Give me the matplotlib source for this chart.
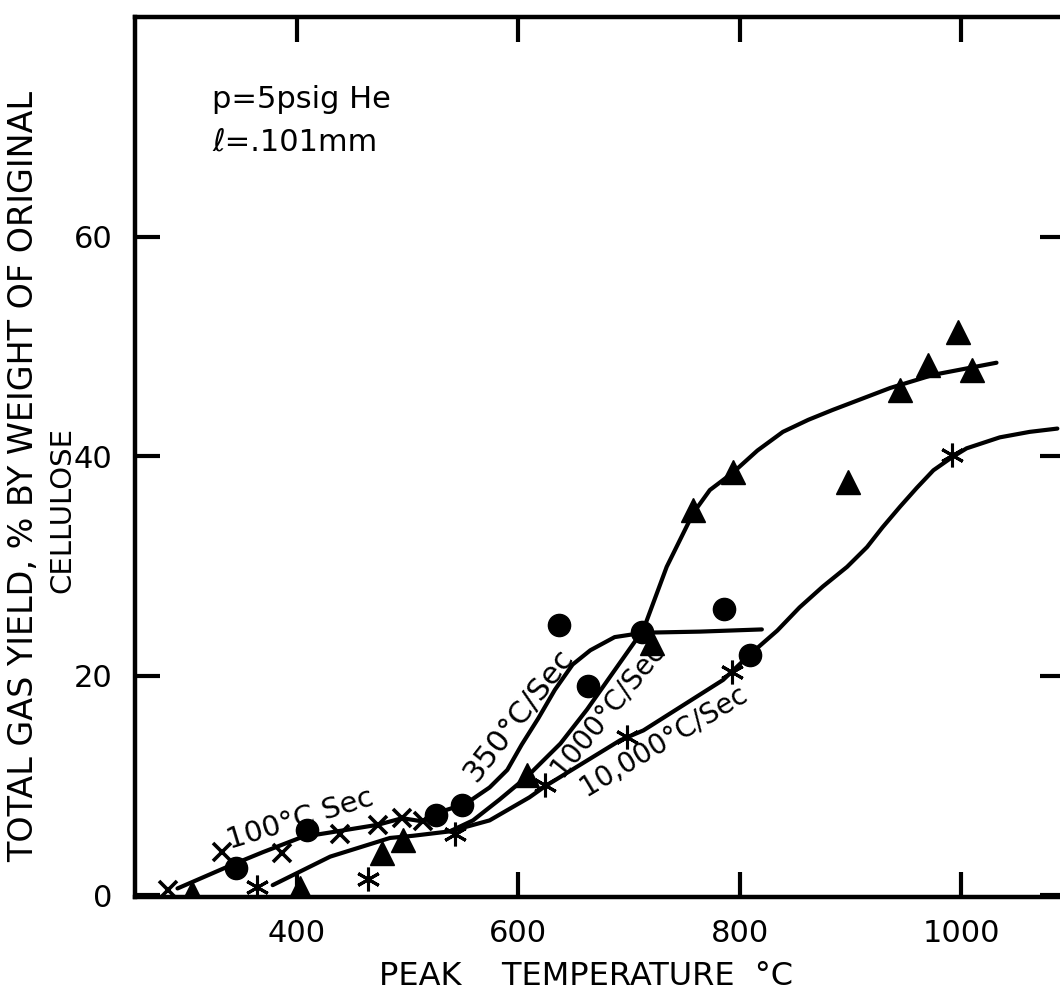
"""
Total gas yield of cellulose vs. peak temperature at several heating rates
(p = 5 psig He, l = .101 mm). Values read off the scanned figure.
"""
import numpy as np
from matplotlib import pyplot as plt

plt.rcParams['font.family'] = ['DejaVu Sans']

# measured points, by marker
cross_T = [283, 332, 386, 439, 473, 495, 514]
cross_Y = [0.5, 3.9, 3.8, 5.6, 6.4, 7.0, 6.7]

circle_T = [345, 409, 526, 549, 637, 663, 712, 786, 809]
circle_Y = [2.5, 5.9, 7.3, 8.2, 24.6, 19.0, 24.0, 26.1, 21.9]

tri_T = [305, 403, 477, 496, 608, 721, 758, 794, 898, 945, 970, 997, 1010]
tri_Y = [0.2, 0.6, 3.8, 5.0, 10.9, 23.0, 35.1, 38.5, 37.6, 46.0, 48.3, 51.3, 47.8]

star_T = [364, 464, 543, 624, 698, 793, 992]
star_Y = [0.7, 1.5, 5.6, 10.0, 14.4, 20.3, 40.1]

# hand drawn curves
c350_T = [292, 340, 369, 405, 430, 473, 495, 514, 527, 549, 558, 574, 590,
          603, 618, 633, 649, 665, 687, 713, 764, 820]
c350_Y = [0.6, 2.7, 3.9, 5.3, 5.7, 6.4, 7.0, 6.7, 7.5, 8.2, 8.7, 9.8, 11.4,
          13.7, 16.1, 18.7, 21.0, 22.3, 23.5, 23.9, 24.0, 24.2]

c1000_T = [378, 430, 484, 505, 538, 559, 583, 608, 638, 662, 713, 734, 758,
           773, 794, 816, 839, 862, 884, 936, 975, 1032]
c1000_Y = [0.9, 3.5, 5.2, 5.4, 5.8, 6.8, 8.7, 10.8, 13.8, 16.9, 24.2, 29.9,
           34.8, 36.9, 38.5, 40.5, 42.2, 43.3, 44.2, 46.2, 47.4, 48.5]

c10000_T = [538, 574, 610, 624, 692, 713, 785, 809, 834, 854, 875, 897, 915,
            929, 945, 960, 975, 992, 1005, 1035, 1062, 1087]
c10000_Y = [5.8, 6.8, 8.9, 9.9, 14.1, 15.0, 19.6, 21.9, 24.1, 26.2, 28.1,
            29.9, 31.7, 33.5, 35.4, 37.1, 38.7, 39.9, 40.7, 41.7, 42.2, 42.5]

# curve labels: text, T, Y, angle, size
labels = [("100°C Sec", 403, 6.9, 17, 21),
          ("350°C/Sec", 600, 16.4, 52, 22),
          ("1000°C/Sec", 680, 17.0, 51, 20),
          ("10,000°C/Sec", 731, 14.1, 31, 20)]


def main():
    fig = plt.figure(figsize=(10.6, 9.94), dpi=100)
    ax = fig.add_axes([135 / 1060, 97 / 994, 930 / 1060, 880 / 994])
    ax.set_xlim(253.6, 1093.9)
    ax.set_ylim(-0.18, 80.0)

    for T, Y in [(c350_T, c350_Y), (c1000_T, c1000_Y), (c10000_T, c10000_Y)]:
        ax.plot(T, Y, color='black', lw=3.0, solid_capstyle='round',
                solid_joinstyle='round', zorder=2)

    ax.plot(cross_T, cross_Y, ls='none', marker='x', ms=13, mew=2.6,
            color='black', zorder=3)
    ax.plot(circle_T, circle_Y, ls='none', marker='o', ms=16,
            color='black', zorder=3)
    ax.plot(tri_T, tri_Y, ls='none', marker='^', ms=17,
            color='black', zorder=3)
    ax.plot(star_T, star_Y, ls='none', marker=(6, 2, 0), ms=17, mew=2.2,
            color='black', zorder=3)

    for txt, T, Y, ang, fs in labels:
        ax.text(T, Y, txt, rotation=ang, rotation_mode='anchor',
                ha='center', va='center', fontsize=fs, zorder=4)

    ax.text(0.083, 0.897, "p=5psig He", transform=ax.transAxes,
            fontsize=22, va='baseline')
    ax.text(0.083, 0.848, "ℓ=.101mm", transform=ax.transAxes,
            fontsize=22, va='baseline')

    ax.set_xticks([400, 600, 800, 1000])
    ax.set_yticks([0, 20, 40, 60])
    ax.tick_params(direction='in', length=18, width=3, top=True, right=True,
                   labelsize=22)
    ax.tick_params(axis='x', pad=16)
    ax.tick_params(axis='y', pad=16)
    for s in ax.spines.values():
        s.set_linewidth(3.2)

    ax.set_xlabel("PEAK    TEMPERATURE  °C", fontsize=23)
    ax.xaxis.set_label_coords(0.485, -0.073)

    fig.text(24 / 1060, 1 - 476 / 994,
             "TOTAL GAS YIELD, % BY WEIGHT OF ORIGINAL",
             rotation=90, ha='center', va='center', fontsize=24)
    fig.text(62 / 1060, 1 - 510 / 994, "CELLULOSE",
             rotation=90, ha='center', va='center', fontsize=21)

    fig.savefig("out.png", dpi=100)


if __name__ == "__main__":
    main()
